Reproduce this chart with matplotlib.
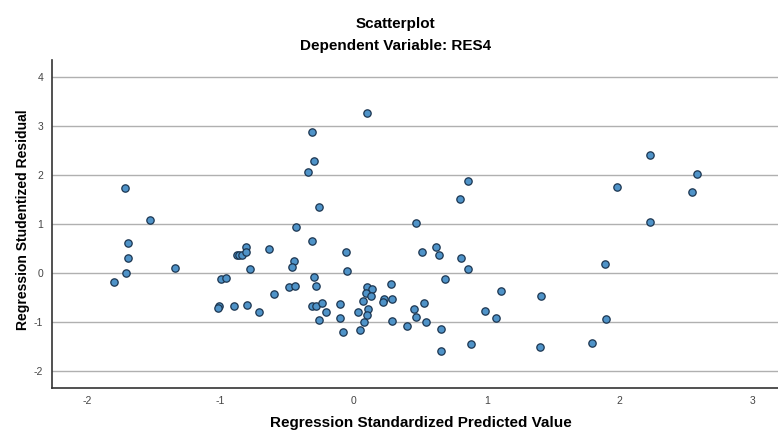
import matplotlib
matplotlib.use('Agg')
import matplotlib.pyplot as plt

# standardized predicted value (x) and studentized residual (y)
pred = [-1.72, -1.53, -1.70, -1.70, -1.71, -1.80, -1.34,
        -0.88, -0.86, -0.84, -0.81, -0.81, -0.64, -0.78, -1.00, -0.96,
        -1.01, -1.02, -0.90, -0.80, -0.71, -0.60,
        0.10, -0.31, -0.30, -0.34, 0.86, 0.80, -0.26, -0.43, 0.47,
        -0.31, -0.06, 0.51, 0.62, 0.64, 0.81, 0.86, 0.69, 1.11,
        -0.45, -0.46, -0.05, -0.30, -0.49, -0.44, -0.28,
        0.10, 0.14, 0.09, 0.13, 0.28, 0.07, 0.23, 0.22, 0.29,
        0.53, 0.45, 0.47, 0.54, 0.40, 0.29, 0.66, 0.66, 0.88, 0.99, 1.07,
        -0.31, -0.28, -0.24, -0.21, -0.26, -0.10, -0.10, -0.08,
        0.03, 0.11, 0.10, 0.08, 0.05,
        2.23, 2.58, 1.98, 2.54, 2.23,
        1.89, 1.41, 1.90, 1.40, 1.79]
resid = [1.75, 1.09, 0.61, 0.31, 0.00, -0.18, 0.10,
         0.37, 0.37, 0.38, 0.54, 0.43, 0.50, 0.08, -0.11, -0.10,
         -0.67, -0.71, -0.66, -0.65, -0.79, -0.43,
         3.27, 2.89, 2.30, 2.07, 1.88, 1.51, 1.35, 0.94, 1.02,
         0.67, 0.43, 0.44, 0.54, 0.37, 0.31, 0.09, -0.12, -0.37,
         0.26, 0.13, 0.05, -0.08, -0.28, -0.25, -0.25,
         -0.28, -0.32, -0.41, -0.46, -0.21, -0.57, -0.52, -0.58, -0.52,
         -0.61, -0.72, -0.90, -1.00, -1.08, -0.97, -1.14, -1.59, -1.44, -0.77, -0.91,
         -0.67, -0.66, -0.60, -0.79, -0.95, -0.62, -0.91, -1.19,
         -0.79, -0.72, -0.86, -0.99, -1.16,
         2.41, 2.02, 1.77, 1.66, 1.05,
         0.20, -0.46, -0.93, -1.50, -1.42]

xticks = [-2, -1, 0, 1, 2, 3]
yticks = [-2, -1, 0, 1, 2, 3, 4]

plt.rcParams['font.family'] = ['Liberation Sans', 'DejaVu Sans']
plt.rcParams['axes.unicode_minus'] = False

fig = plt.figure(figsize=(7.78, 4.30), dpi=100)
ax = fig.add_axes([0.0665, 0.0977, 0.9335, 0.7623])

ax.scatter(pred, resid, s=28, c='#4f93c8', edgecolors='#1b3550', linewidths=0.9, zorder=3)

ax.set_xlim(-2.27, 3.19)
ax.set_ylim(-2.34, 4.35)
ax.set_xticks(xticks)
ax.set_yticks(yticks)
ax.tick_params(length=0, labelsize=7.5, colors='#444444', pad=6)
ax.yaxis.grid(True, color='#b0b0b0', lw=1.0)
ax.set_axisbelow(True)
for side in ['top', 'right']:
    ax.spines[side].set_visible(False)
for side in ['left', 'bottom']:
    ax.spines[side].set_color('#333333')
    ax.spines[side].set_linewidth(1.2)

ax.set_xlabel('Regression Standardized Predicted Value', fontsize=11, fontweight='bold')
ax.xaxis.set_label_coords(0.508, -0.085)
fig.text(0.030, 0.488, 'Regression Studentized Residual', rotation=90, ha='center', va='center',
         fontsize=10, fontweight='bold')

fig.text(0.508, 0.944, 'Scatterplot', ha='center', va='center', fontsize=11, fontweight='bold')
fig.text(0.508, 0.893, 'Dependent Variable: RES4', ha='center', va='center', fontsize=11, fontweight='bold')

fig.savefig('out.png', dpi=100)
